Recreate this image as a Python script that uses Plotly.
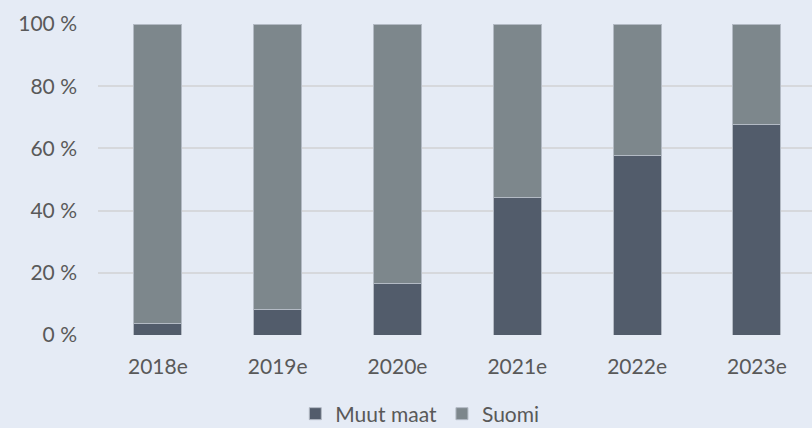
import plotly.graph_objects as go

years = ["2018e", "2019e", "2020e", "2021e", "2022e", "2023e"]
muut_maat = [3.6, 8.3, 16.6, 44.2, 57.6, 67.8]
suomi = [100 - v for v in muut_maat]

bg = "#e5ebf5"
fig = go.Figure()
fig.add_trace(go.Bar(
    x=years, y=muut_maat, name="Muut maat",
    marker=dict(color="#525c6b", line=dict(color="#b3bac4", width=1)),
))
fig.add_trace(go.Bar(
    x=years, y=suomi, name="Suomi",
    marker=dict(color="#7d878c", line=dict(color="#b3bac4", width=1)),
))

fig.update_layout(
    width=812, height=428,
    barmode="stack", bargap=0.6,
    paper_bgcolor=bg, plot_bgcolor=bg,
    margin=dict(l=98, r=0, t=24, b=93, autoexpand=False),
    font=dict(family="Lato", size=21, color="#595959"),
    showlegend=True,
    legend=dict(orientation="h", traceorder="normal",
                xref="container", yref="container",
                x=0.517, xanchor="center", y=14 / 428, yanchor="middle",
                font=dict(size=21, color="#595959"), itemwidth=30),
    xaxis=dict(showgrid=False, showline=False, ticks="", range=[-0.5, 5.46],
               ticklabelstandoff=17, tickfont=dict(size=21)),
    yaxis=dict(range=[0, 100], dtick=20, ticksuffix=" %", showgrid=True,
               gridcolor="#d6d8dc", gridwidth=2, zeroline=False, ticks="",
               ticklabelstandoff=20),
)
fig.write_html("out.html")
